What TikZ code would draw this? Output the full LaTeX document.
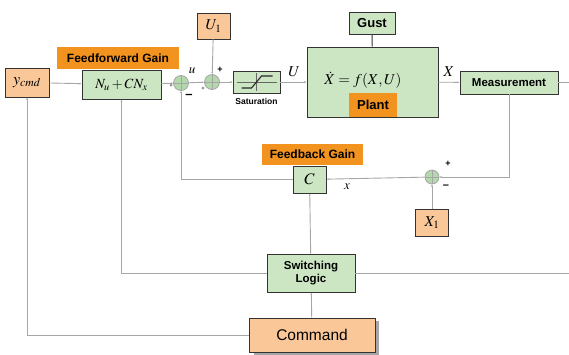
\documentclass[tikz,border=0pt]{standalone}
\usepackage{mathptmx}
\usepackage[no-math]{fontspec}
\setsansfont{Liberation Sans}
\usetikzlibrary{arrows.meta}

\definecolor{boxgreen}{HTML}{CCE6C4}
\definecolor{sumgreen}{HTML}{B3D8AC}
\definecolor{boxorange}{HTML}{FAC898}
\definecolor{tagorange}{HTML}{F2931F}
\definecolor{wiregray}{HTML}{A6A6A6}
\newcommand{\fs}[1]{\fontsize{#1}{#1}\selectfont}

\begin{document}
\begin{tikzpicture}[x=1pt, y=-1pt, >={Latex[length=2.2pt,width=2pt]},
  blk/.style={draw=black!80, line width=0.9pt, fill=boxgreen, inner sep=0pt},
  inp/.style={blk, fill=boxorange},
  tag/.style={fill=tagorange, inner sep=0pt, font=\sffamily\bfseries\fs{12}},
  sumj/.style={circle, draw=wiregray, line width=0.8pt, fill=sumgreen, minimum size=15pt, inner sep=0pt,
    path picture={\draw[wiregray, line width=0.8pt] (path picture bounding box.north) -- (path picture bounding box.south)
      (path picture bounding box.west) -- (path picture bounding box.east);}},
  wire/.style={draw=wiregray, line width=0.9pt},
  sgn/.style={font=\sffamily\bfseries\fs{9}, inner sep=0pt}]
	\useasboundingbox (0,0) rectangle (569,354);
	% forward path
	\node[inp, minimum width=44pt, minimum height=29pt, font=\fs{16}] (ycmd) at (27,82.5) {$y_{cmd}$};
	\node[blk, minimum width=79pt, minimum height=29pt, font=\fs{14}] (ff) at (121.5,84.5) {$N_u + CN_x$};
	\node[tag, minimum width=122pt, minimum height=22pt] (fftag) at (118,58) {Feedforward Gain};
	\node[sumj] (s1) at (181,83) {};
	\node[sumj] (s2) at (212,82) {};
	\node[inp, minimum width=33pt, minimum height=26pt, font=\fs{15}] (u1) at (213.5,26) {$U_1$};
	\node[blk, minimum width=47pt, minimum height=22pt] (sat) at (256.5,82) {};
	\node[font=\sffamily\bfseries\fs{8.5}] (satlbl) at (256.5,101) {Saturation};
	\node[blk, minimum width=131pt, minimum height=70pt] (plant) at (372.5,82) {};
	\node[font=\fs{15}, inner sep=1pt] (eqn) at (363,80) {$\dot X = f(X,U)$};
	\node[tag, minimum width=48pt, minimum height=24pt, font=\sffamily\bfseries\fs{13}] (planttag) at (373,105) {Plant};
	\node[blk, minimum width=46pt, minimum height=22pt, font=\sffamily\bfseries\fs{13}] (gust) at (372,23) {Gust};
	\node[blk, minimum width=98pt, minimum height=23pt, font=\sffamily\bfseries\fs{11.5}] (meas) at (509,82.5) {Measurement};
	% feedback path
	\node[sumj, minimum size=14pt] (s3) at (432,177) {};
	\node[inp, minimum width=33pt, minimum height=27pt, font=\fs{15}] (x1) at (432,222.5) {$X_1$};
	\node[blk, minimum width=33pt, minimum height=27pt, font=\fs{16}] (gain) at (309.5,179.5) {$C$};
	\node[tag, minimum width=101pt, minimum height=21pt] (fbtag) at (312.5,154.5) {Feedback Gain};
	\node[blk, minimum width=88pt, minimum height=38pt, align=center, font=\sffamily\bfseries\fs{11.5}] (switch) at (311,273) {Switching\\[1pt]Logic};
	\fill[black!35] (254,321) rectangle (379,355);
	\node[inp, minimum width=126pt, minimum height=34pt, font=\sffamily\fs{15.5}] (cmd) at (312,335) {Command};
	% saturation curve
	\draw[black!60, line width=0.6pt, shift={(sat.center)}] (-20,0) -- (20,0) (0,-9) -- (0,9);
	\draw[black!85, line width=1.1pt, shift={(sat.center)}] (-15,6) -- (-5,6) -- (5,-6) -- (16,-6);
	% connectors
	\draw[wire, ->] (ycmd) -- (ff);
	\draw[wire, ->] (ff) -- (s1);
	\draw[wire, ->] (s1) -- (s2);
	\draw[wire, ->] (u1) -- (s2);
	\draw[wire, ->] (s2) -- (sat);
	\draw[wire, ->] (sat) -- (plant);
	\draw[black!80, line width=0.9pt] (gust) -- (plant);
	\draw[wire, ->] (plant) -- (meas);
	\draw[wire] (meas.east) -- (590,82.5) -- (590,273) -- (switch.east);
	\draw[wire, ->] (meas.south) |- (s3.east);
	\draw[wire, ->] (x1) -- (s3);
	\draw[wire, ->] (s3) -- (gain);
	\draw[wire, ->] (gain.west) -| (s1.south);
	\draw[wire, ->] (switch) -- (gain);
	\draw[wire, ->] (cmd) -- (switch);
	\draw[wire, ->] (switch.west) -| (ff.south);
	\draw[wire, ->] (cmd.west) -| (ycmd.south);
	% signal labels and signs
	\node[font=\fs{13}] (lu) at (192,71) {$u$};
	\node[font=\fs{15}] (lU) at (294,72) {$U$};
	\node[font=\fs{15}] (lX) at (449,72) {$X$};
	\node[font=\fs{13}] (lx) at (347,187) {$x$};
	\node[sgn, font=\sffamily\fs{6}] at (171,86) {+};
	\node[sgn, font=\sffamily\bfseries\fs{13}] at (189,96) {--};
	\node[sgn] at (220,70) {+};
	\node[sgn, font=\sffamily\fs{6}] at (203,89) {+};
	\node[sgn] at (448,164) {+};
	\node[sgn, font=\sffamily\bfseries\fs{11}] at (446,187) {--};
\end{tikzpicture}
\end{document}
